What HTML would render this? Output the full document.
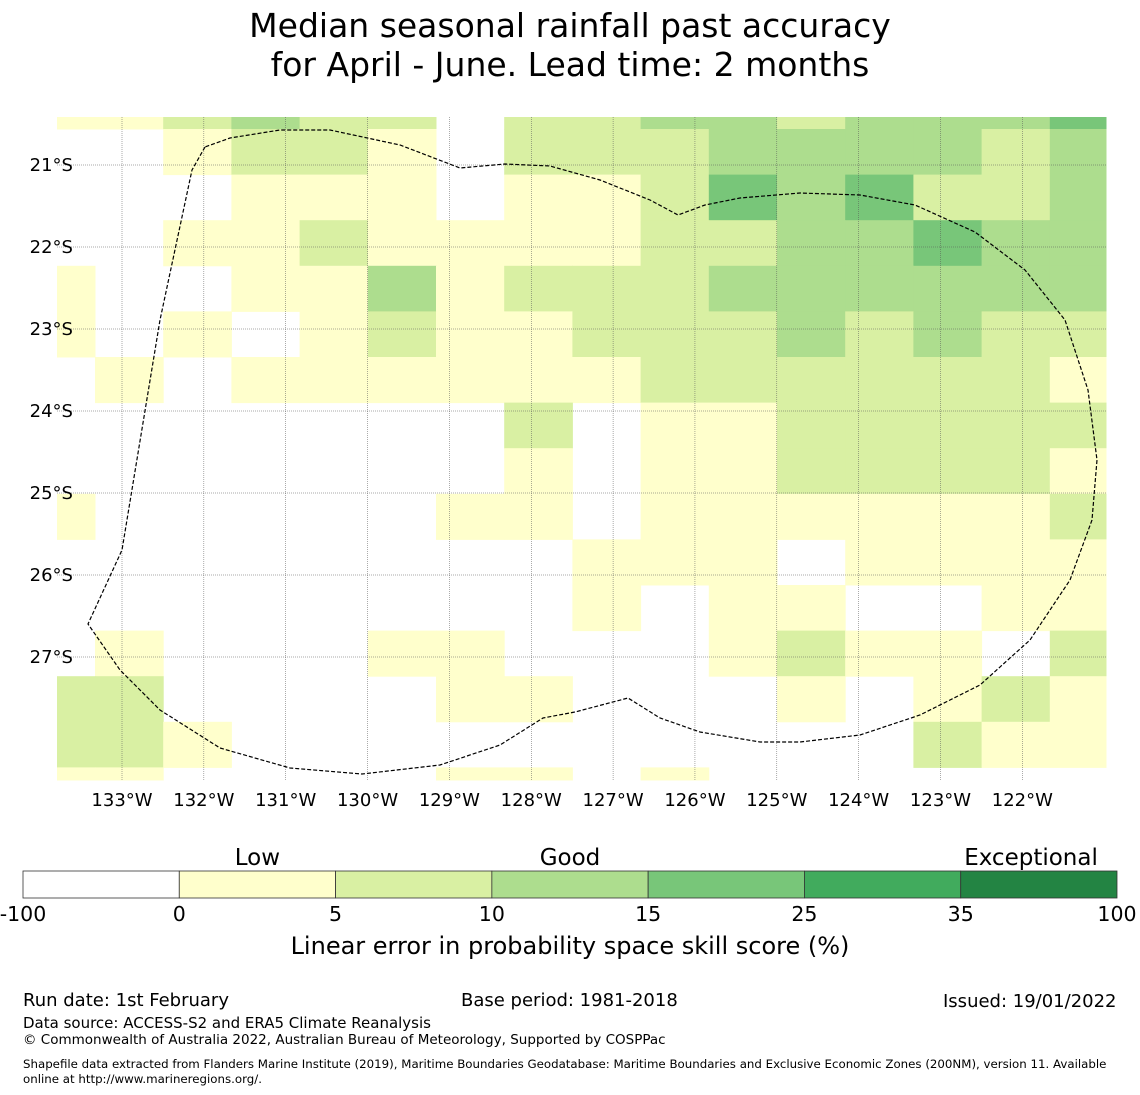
<!DOCTYPE html>
<html><head><meta charset="utf-8">
<style>
body{margin:0;background:#fff;font-family:"DejaVu Sans","Liberation Sans",sans-serif;}
#wrap{position:relative;width:1140px;height:1095px;overflow:hidden;}
.t{position:absolute;white-space:nowrap;color:#000;}
svg text{font-family:"DejaVu Sans","Liberation Sans",sans-serif;}
</style></head>
<body>
<div id="wrap">
<div class="t" style="left:0;width:1140px;text-align:center;top:6px;font-size:33px;line-height:39px;">Median seasonal rainfall past accuracy<br>for April - June. Lead time: 2 months</div>
<svg id="map" width="1140" height="1095" style="position:absolute;left:0;top:0"></svg>
<div class="t" style="left:23px;top:990px;font-size:18px;">Run date: 1st February</div>
<div class="t" style="left:461px;top:990px;font-size:18px;">Base period: 1981-2018</div>
<div class="t" style="left:943px;top:991px;font-size:18px;">Issued: 19/01/2022</div>
<div class="t" style="left:23px;top:1014px;font-size:15px;">Data source: ACCESS-S2 and ERA5 Climate Reanalysis</div>
<div class="t" style="left:23px;top:1032px;font-size:13.5px;">© Commonwealth of Australia 2022, Australian Bureau of Meteorology, Supported by COSPPac</div>
<div class="t" style="left:23px;top:1057px;font-size:11.8px;line-height:15px;white-space:normal;width:1117px;">Shapefile data extracted from Flanders Marine Institute (2019), Maritime Boundaries Geodatabase: Maritime Boundaries and Exclusive Economic Zones (200NM), version 11. Available online at http://www.marineregions.org/.</div>
</div>
<script>
const lonLabels=["133°W","132°W","131°W","130°W","129°W","128°W","127°W","126°W","125°W","124°W","123°W","122°W"];
const latLabels=["21°S","22°S","23°S","24°S","25°S","26°S","27°S"];
const skillRows=[
"1123220223323334",
"0012210222333323",
"0001110112434223",
"0011211112233433",
"1001131222333333",
"1010121122232322",
"0101111112222221",
"0000000201122222",
"0000000101122221",
"1000001101111112",
"0000000011101111",
"0000000010110011",
"0100011000121102",
"2200001100010121",
"2210000000000211",
"1100001101000000"];
const cbTicks=["-100","0","5","10","15","25","35","100"];
const cbColors=["#ffffff","#ffffcc","#d9f0a3","#addd8e","#78c679","#41ab5d","#238443"];
const cbNames=["Low","Good","Exceptional"];
const cbNamePos=[1.5,3.5,6.45];
const svg=document.getElementById('map');
const NS='http://www.w3.org/2000/svg';
function mk(tag,attrs){const e=document.createElementNS(NS,tag);for(const k in attrs)e.setAttribute(k,attrs[k]);svg.appendChild(e);return e;}
const colEdges=[57];for(let k=0;k<=15;k++)colEdges.push(Math.min(1106,95+68.2*k));
const rowEdges=[117];for(let k=0;k<=15;k++)rowEdges.push(Math.min(780,129+45.6*k));
skillRows.forEach((row,r)=>{[...row].forEach((v,c)=>{
 const lvl=+v; if(lvl===0)return;
 const e=mk('rect',{x:colEdges[c],y:rowEdges[r],width:colEdges[c+1]-colEdges[c]+0.5,height:rowEdges[r+1]-rowEdges[r]+0.5,fill:cbColors[lvl]});
 
 
});});
const lonX=i=>122+81.85*i, latY=i=>165+82*i;
lonLabels.forEach((l,i)=>{
 const g=mk('line',{x1:lonX(i),x2:lonX(i),y1:117,y2:780,stroke:'#555','stroke-width':0.5,'stroke-dasharray':'1,1'});
 
 const t=mk('text',{x:lonX(i),y:806,'text-anchor':'middle','font-size':18});t.textContent=l;
 
});
latLabels.forEach((l,i)=>{
 const g=mk('line',{x1:57,x2:1106,y1:latY(i),y2:latY(i),stroke:'#555','stroke-width':0.5,'stroke-dasharray':'1,1'});
 
 const t=mk('text',{x:73,y:latY(i)+6,'text-anchor':'end','font-size':18});t.textContent=l;
 
});
const eez=mk('path',{d:"M205,147 L192,170 L160,320 L122,550 L88,624 L120,670 L160,710 L220,748 L290,768 L362,774 L440,765 L500,745 L543,718 L575,712 L628,698 L660,718 L700,732 L760,742 L800,742 L860,735 L920,715 L980,685 L1030,640 L1070,580 L1092,520 L1097,460 L1088,390 L1065,320 L1025,270 L975,232 L915,205 L860,195 L800,193 L740,198 L705,205 L678,215 L650,200 L600,180 L550,166 L505,164 L460,168 L400,145 L330,130 L280,130 L230,138 Z",fill:'none',stroke:'#000','stroke-width':1.2,'stroke-dasharray':'4,2'});

const cbX=i=>23+i*(1094/7);
cbColors.forEach((c,i)=>{
 const r=mk('rect',{x:cbX(i),y:871,width:1094/7,height:27,fill:c,stroke:'#333','stroke-width':0.8});
 
});
cbTicks.forEach((l,i)=>{
 const t=mk('text',{x:cbX(i),y:921,'text-anchor':'middle','font-size':20.5});t.textContent=l;
 
});
cbNames.forEach((l,i)=>{
 const t=mk('text',{x:cbX(cbNamePos[i]),y:865,'text-anchor':'middle','font-size':23});t.textContent=l;
 
});
const ct=mk('text',{x:570,y:954,'text-anchor':'middle','font-size':24});ct.textContent='Linear error in probability space skill score (%)';

</script>
</body></html>
